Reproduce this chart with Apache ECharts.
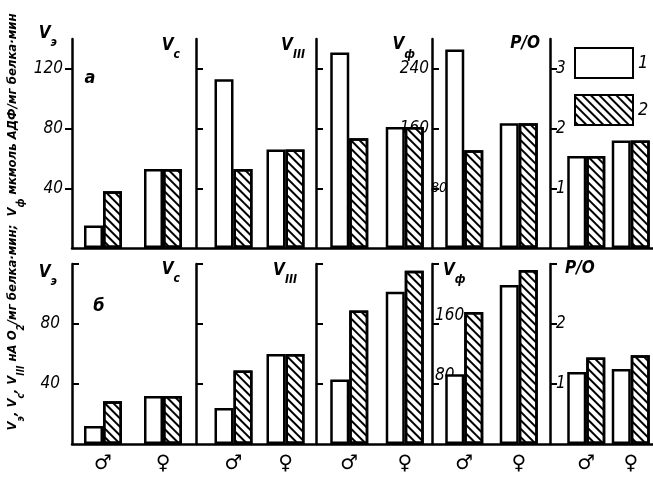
<!DOCTYPE html>
<html lang="ru">
<head>
<meta charset="UTF-8">
<title>Chart</title>
<script src="https://cdn.jsdelivr.net/npm/echarts@6/dist/echarts.min.js"></script>
<style>html,body{margin:0;padding:0;background:#fff;}</style>
</head>
<body>
<div id="main" style="width:653px;height:477px;"></div>
<script>
var sexes = ['♂', '♀'];
// row а : series 1 (white), series 2 (hatched)
var aVe1 = [15, 53],   aVe2 = [38, 53];
var aVc1 = [113, 66],  aVc2 = [53, 66];
var aV3a = [131, 81],  aV3b = [73.5, 81];
var aVf1 = [266, 167], aVf2 = [131, 167];
var aPO1 = [1.54, 1.8], aPO2 = [1.54, 1.8];
// row б
var bVe1 = [12, 32],   bVe2 = [28.5, 32];
var bVc1 = [24, 60],   bVc2 = [49, 60];
var bV3a = [43, 101.5], bV3b = [89, 115.5];
var bVf1 = [93, 212],  bVf2 = [176, 232];
var bPO1 = [1.2, 1.25], bPO2 = [1.44, 1.48];
// ticks and tick labels
var ticksV = [40, 80, 120];
var ticksF = [80, 160, 240];
var ticksPO = [1, 2, 3];
var labelsBV = [40, 80];
var labelsBF = [80, 160];
var labelsBPO = [1, 2];

var FONT = '"Liberation Sans Narrow", "DejaVu Sans Condensed", sans-serif';
var nameRich = {
    v: {fontFamily: FONT, fontStyle: 'italic', fontWeight: 'bold', fontSize: 17, lineHeight: 24, verticalAlign: 'top', color: '#000'},
    s: {fontFamily: FONT, fontStyle: 'italic', fontWeight: 'bold', fontSize: 12, lineHeight: 24, verticalAlign: 'bottom', color: '#000'}
};
var titleRich = {
    v: {fontFamily: FONT, fontStyle: 'italic', fontWeight: 'bold', fontSize: 13, lineHeight: 20, verticalAlign: 'top', fill: '#000'},
    s: {fontFamily: FONT, fontStyle: 'italic', fontWeight: 'bold', fontSize: 10, lineHeight: 20, verticalAlign: 'bottom', fill: '#000'}
};
var hatch = {
    symbol: 'rect', symbolSize: 1, color: '#000',
    dashArrayX: [1, 0], dashArrayY: [1.5, 4], rotation: Math.PI / 4
};

var colLeft = [73, 207.5, 321.5, 437, 564];
var colWidth = [120, 104, 111, 109, 95];
var axisX = [72, 196, 316, 432, 550];

var rows = [
    {top: 39, bottom: 229, xLabels: false, panels: [
        {d1: aVe1, d2: aVe2, max: 140, step: 40, ticks: ticksV, labels: ticksV, name: '{v|V}{s|э}', nameGap: 2, nameAlign: 'right', namePad: 15, tickInside: false, labelInside: false, margin: 9},
        {d1: aVc1, d2: aVc2, max: 140, step: 40, ticks: ticksV, labels: [], name: '{v|V}{s|c}', nameGap: -10, nameAlign: 'right', namePad: 16, tickInside: true, labelInside: false, margin: 9},
        {d1: aV3a, d2: aV3b, max: 140, step: 40, ticks: ticksV, labels: [], name: '{v|V}{s|III}', nameGap: -10, nameAlign: 'right', namePad: 11, tickInside: true, labelInside: false, margin: 9},
        {d1: aVf1, d2: aVf2, max: 280, step: 80, ticks: ticksF, labels: ticksF, name: '{v|V}{s|ф}', nameGap: -12, nameAlign: 'right', namePad: 17, tickInside: true, labelInside: false, margin: -15, shift80: true},
        {d1: aPO1, d2: aPO2, max: 3.5, step: 1, ticks: ticksPO, labels: ticksPO, name: '{v|P/O}', nameGap: -8, nameAlign: 'right', namePad: 10, tickInside: true, labelInside: true, margin: 6}
    ]},
    {top: 264, bottom: 33, xLabels: true, panels: [
        {d1: bVe1, d2: bVe2, max: 120, step: 40, ticks: ticksV, labels: labelsBV, name: '{v|V}{s|э}', nameGap: -12, nameAlign: 'right', namePad: 15, tickInside: true, labelInside: false, margin: 12},
        {d1: bVc1, d2: bVc2, max: 120, step: 40, ticks: ticksV, labels: [], name: '{v|V}{s|c}', nameGap: -9, nameAlign: 'right', namePad: 16, tickInside: true, labelInside: false, margin: 9},
        {d1: bV3a, d2: bV3b, max: 120, step: 40, ticks: ticksV, labels: [], name: '{v|V}{s|III}', nameGap: -10, nameAlign: 'right', namePad: 19, tickInside: true, labelInside: false, margin: 9},
        {d1: bVf1, d2: bVf2, max: 240, step: 80, ticks: ticksF, labels: labelsBF, name: '{v|V}{s|ф}', nameGap: -10, nameAlign: 'left', namePad: 11, tickInside: true, labelInside: true, margin: 3, vAlign: 'bottom'},
        {d1: bPO1, d2: bPO2, max: 3, step: 1, ticks: ticksPO, labels: labelsBPO, name: '{v|P/O}', nameGap: -8, nameAlign: 'left', namePad: 15, tickInside: true, labelInside: true, margin: 6}
    ]}
];

var grids = [], xAxes = [], yAxes = [], series = [];
rows.forEach(function (row) {
    row.panels.forEach(function (p, i) {
        var gi = grids.length;
        grids.push({left: colLeft[i], width: colWidth[i], top: row.top, bottom: row.bottom});
        xAxes.push({
            gridIndex: gi, type: 'category', data: sexes,
            axisLine: {show: false}, axisTick: {show: false},
            axisLabel: {show: row.xLabels, fontSize: 20, margin: 10, color: '#000', fontFamily: 'DejaVu Sans'}
        });
        yAxes.push({
            gridIndex: gi, type: 'value', min: 0, max: p.max, interval: p.step,
            offset: colLeft[i] - axisX[i],
            axisLine: {show: true, lineStyle: {color: '#000', width: 2.5}},
            axisTick: {show: true, inside: p.tickInside, length: 7, lineStyle: {color: '#000', width: 2}, customValues: p.ticks},
            axisLabel: {
                customValues: p.labels, inside: p.labelInside, margin: p.margin,
                verticalAlign: p.vAlign || 'middle',
                fontFamily: FONT, fontStyle: 'italic', fontSize: 17, color: '#000',
                formatter: p.shift80 ? function (v) { return v === 80 ? '{m|80}' : '{n|' + v + '}{g| }'; } : null,
                rich: {
                    n: {fontFamily: FONT, fontStyle: 'italic', fontSize: 17, color: '#000'},
                    m: {fontFamily: FONT, fontStyle: 'italic', fontSize: 14, color: '#000'},
                    g: {width: 18}
                }
            },
            splitLine: {show: false},
            name: p.name, nameLocation: 'end', nameGap: p.nameGap,
            nameTextStyle: {
                align: p.nameAlign, verticalAlign: 'middle',
                padding: p.nameAlign === 'right' ? [0, p.namePad, 0, 0] : [0, 0, 0, p.namePad],
                rich: nameRich
            }
        });
        series.push({
            name: '1', type: 'bar', xAxisIndex: gi, yAxisIndex: gi, data: p.d1,
            barWidth: 19, barGap: '0%',
            itemStyle: {color: '#fff', borderColor: '#000', borderWidth: 2.5}
        });
        series.push({
            name: '2', type: 'bar', xAxisIndex: gi, yAxisIndex: gi, data: p.d2,
            barWidth: 19, barGap: '0%',
            itemStyle: {color: '#fff', borderColor: '#000', borderWidth: 2.5, decal: hatch}
        });
    });
});
// continuous baselines under each row
rows.forEach(function (row) {
    var gi = grids.length;
    grids.push({left: 72, right: 0, top: row.top, bottom: row.bottom});
    xAxes.push({gridIndex: gi, type: 'value', min: 0, max: 1,
        axisLine: {show: true, onZero: false, lineStyle: {color: '#000', width: 2.5}},
        axisTick: {show: false}, axisLabel: {show: false}, splitLine: {show: false}});
    yAxes.push({gridIndex: gi, type: 'value', show: false});
});

var myChart = echarts.init(document.getElementById('main'));
var option = {
    backgroundColor: '#fff',
    animation: false,
    grid: grids,
    xAxis: xAxes,
    yAxis: yAxes,
    series: series,
    legend: {
        data: ['1', '2'], orient: 'vertical', left: 569, top: 42,
        icon: 'rect', itemWidth: 58, itemHeight: 30, itemGap: 15,
        textStyle: {fontFamily: FONT, fontStyle: 'italic', fontSize: 18, color: '#000'}
    },
    graphic: [
        {type: 'text', x: 16, y: 222, rotation: Math.PI / 2,
            style: {
                text: '{v|V}{s|э}{v|, V}{s|c}{v|, V}{s|III}{v| нА O}{s|2}{v|/мг белка·мин;  V}{s|ф}{v| мкмоль АДФ/мг белка·мин}',
                align: 'center', verticalAlign: 'middle', rich: titleRich
            }},
        {type: 'text', x: 90, y: 78, style: {text: 'а', font: 'italic bold 18px ' + FONT, fill: '#000', align: 'center', verticalAlign: 'middle'}},
        {type: 'text', x: 99, y: 306, style: {text: 'б', font: 'italic bold 18px ' + FONT, fill: '#000', align: 'center', verticalAlign: 'middle'}}
    ]
};
myChart.setOption(option);
</script>
</body>
</html>
